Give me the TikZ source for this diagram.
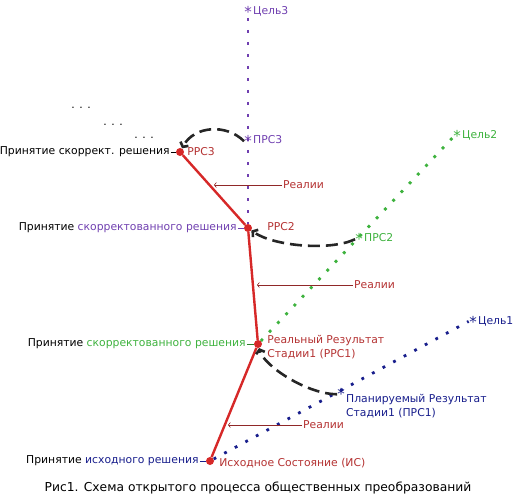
\documentclass[tikz,border=0pt]{standalone}
\usepackage{fontspec}
\setmainfont{DejaVu Sans}
\usetikzlibrary{arrows.meta,positioning}
\definecolor{lred}{RGB}{214,40,40}
\definecolor{lbrown}{RGB}{180,50,50}
\definecolor{lpurple}{RGB}{112,64,176}
\definecolor{lgreen}{RGB}{62,178,62}
\definecolor{lblue}{RGB}{24,30,140}
\begin{document}
\begin{tikzpicture}[
    x=1pt, y=-1pt,
    font=\fontsize{10.8}{14.5}\selectfont,
    rdot/.style={circle, fill=lred, inner sep=0pt, minimum size=8pt},
    route/.style={lred, line width=2.4pt},
    plan/.style={line width=2.8pt, dash pattern=on 2.8pt off 9.2pt},
    feedback/.style={black!85, line width=2.6pt, dash pattern=on 12pt off 6pt, -{Straight Barb[length=3.5pt, width=9pt]}},
    reality/.style={lbrown!80!black, line width=0.6pt, -{Straight Barb[length=2pt, width=5pt]}},
    lbl/.style={inner sep=1pt},
    starmark/.style={inner sep=0pt, anchor=base, yshift=-5.8pt, font=\fontsize{15}{15}\selectfont}
]
\useasboundingbox (0,0) rectangle (529,497);

% stages
\node[rdot] (is) at (210,461) {};
\node[rdot] (rrs1) at (258,344) {};
\node[rdot] (rrs2) at (248,228) {};
\node[rdot] (rrs3) at (180,152) {};

% planned points and goals
\coordinate (goal3) at (248,9);
\coordinate (prs3) at (248,138);
\coordinate (goal2) at (457,133);
\coordinate (prs2) at (359,236);
\coordinate (goal1) at (473,319);
\coordinate (prs1) at (341,391);

\draw[plan, lpurple] ([yshift=-9pt]goal3) -- (rrs2);
\draw[plan, lgreen, shorten >=5pt] (rrs1) -- (goal2);
\draw[plan, lblue, shorten >=5pt] (is) -- (goal1);

\draw[route] (is) -- (rrs1) -- (rrs2) -- (rrs3);

\node[starmark, lpurple] (sg3) at (goal3) {\raisebox{-3pt}{*}};
\node[lbl, lpurple, base right=0pt of sg3] {Цель3};
\node[starmark, lpurple] (sp3) at (prs3) {\raisebox{-3pt}{*}};
\node[lbl, lpurple, base right=0pt of sp3] {ПРС3};
\node[starmark, lgreen] (sg2) at (goal2) {\raisebox{-3pt}{*}};
\node[lbl, lgreen, base right=0pt of sg2] {Цель2};
\node[starmark, lgreen] (sp2) at (prs2) {\raisebox{-3pt}{*}};
\node[lbl, lgreen, base right=0pt of sp2] {ПРС2};
\node[starmark, lblue] (sg1) at (goal1) {\raisebox{-3pt}{*}};
\node[lbl, lblue, base right=0pt of sg1] {Цель1};
\node[starmark, lblue] (sp1) at (prs1) {\raisebox{-3pt}{*}};
\node[lbl, lblue, align=left, below right=-7pt and 0pt of sp1] {Планируемый Результат\\Стадии1 (ПРС1)};

% stage labels
\node[lbl, lbrown, right=2pt of rrs3] {РРС3};
\node[lbl, lbrown, right=14pt of rrs2, yshift=1pt] {РРС2};
\node[lbl, lbrown, align=left, right=4pt of rrs1, yshift=-3pt] {Реальный Результат\\Стадии1 (РРС1)};
\node[lbl, lbrown, right=4pt of is, yshift=-2pt] {Исходное Состояние (ИС)};

\node[lbl, left=5pt of rrs3] (dec3) {Принятие скоррект. решения};
\node[lbl, left=6pt of rrs2] (dec2) {Принятие \textcolor{lpurple}{скорректованного решения}};
\node[lbl, left=7pt of rrs1] (dec1) {Принятие \textcolor{lgreen}{скорректованного решения}};
\node[lbl, left=6pt of is] (dec0) {Принятие \textcolor{lblue}{исходного решения}};
\draw[line width=0.8pt] (dec3) -- (rrs3);
\draw[line width=0.8pt, lpurple] (dec2) -- (rrs2);
\draw[line width=0.8pt, lgreen!70!black] (dec1) -- (rrs1);
\draw[line width=0.8pt, lblue] (dec0) -- (is);

% corrections
\draw[feedback] (sp3.west) .. controls +(-18,-18) and +(14,-26) .. (rrs3);
\draw[feedback] (sp2.west) .. controls +(-25,12) and +(25,18) .. (rrs2);
\draw[feedback] (sp1.west) .. controls +(-30,0) and +(6,22) .. (rrs1);

% realities
\coordinate (a3) at (214,185);
\coordinate (a2) at (257,285);
\coordinate (a1) at (228,425);
\node[lbl, lbrown, anchor=west] (real3) at (282,185) {Реалии};
\node[lbl, lbrown, anchor=west] (real2) at (353,285) {Реалии};
\node[lbl, lbrown, anchor=west] (real1) at (302,425) {Реалии};
\draw[reality] (real3) -- (a3);
\draw[reality] (real2) -- (a2);
\draw[reality] (real1) -- (a1);

\node (more1) at (81,108) {. . .};
\node (more2) at (113,125) {. . .};
\node (more3) at (144,138) {. . .};

\node[font=\fontsize{12.3}{14}\selectfont] (caption) at (258,488) {Рис1. Схема открытого процесса общественных преобразований};
\end{tikzpicture}
\end{document}
